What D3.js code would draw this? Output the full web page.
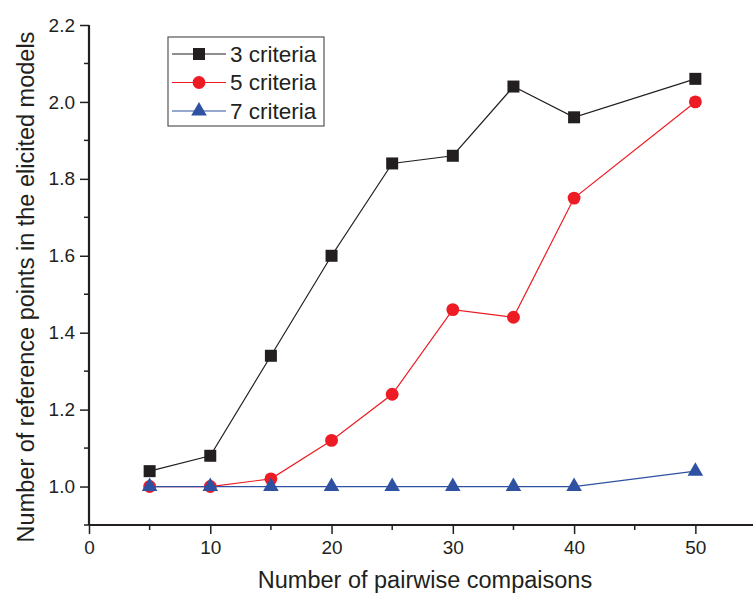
<!DOCTYPE html>
<html>
<head>
<meta charset="utf-8">
<script src="https://cdn.jsdelivr.net/npm/d3@7"></script>
<style>
  body { margin: 0; background: #fff; }
  text { font-family: "Liberation Sans", Arial, sans-serif; fill: #231f20; }
</style>
</head>
<body>
<script>
// data

const comparisons = [5, 10, 15, 20, 25, 30, 35, 40, 50];
const criteria3 = [1.04, 1.08, 1.34, 1.60, 1.84, 1.86, 2.04, 1.96, 2.06];
const criteria5 = [1.00, 1.00, 1.02, 1.12, 1.24, 1.46, 1.44, 1.75, 2.00];
const criteria7 = [1.00, 1.00, 1.00, 1.00, 1.00, 1.00, 1.00, 1.00, 1.04];
const seriesNames = ["3 criteria", "5 criteria", "7 criteria"];
const xTickLabels = [0, 10, 20, 30, 40, 50];
const yTickLabels = [1.0, 1.2, 1.4, 1.6, 1.8, 2.0, 2.2];

const series = [
    { name: seriesNames[0], values: criteria3, color: "#231f20", symbol: d3.symbolSquare, size: 144 },
    { name: seriesNames[1], values: criteria5, color: "#ed1c24", symbol: d3.symbolCircle, size: 130 },
    { name: seriesNames[2], values: criteria7, color: "#2e51a2", symbol: d3.symbolTriangle, size: 105 }
];

// dimensions

const dms = {
    width: 753,
    height: 600,
    margins: { top: 25, right: 0, bottom: 75, left: 89 }
};
dms.innerWidth = dms.width - dms.margins.left - dms.margins.right;
dms.innerHeight = dms.height - dms.margins.top - dms.margins.bottom;

const svg = d3.select("body")
    .append("svg")
    .attr("width", dms.width)
    .attr("height", dms.height);

const g = svg.append("g")
    .attr("transform", `translate(${dms.margins.left},${dms.margins.top})`);

// scales

const xScale = d3.scaleLinear()
    .domain([0, 55])
    .range([0, 667]);

const yScale = d3.scaleLinear()
    .domain([0.9, 2.2])
    .range([500, 0]);

// axes

const xAxis = g.append("g")
    .attr("transform", `translate(0,500)`)
    .call(d3.axisBottom(xScale).tickValues(xTickLabels).tickSize(9).tickPadding(7).tickFormat(d3.format("d")));
xAxis.append("g").selectAll("line")
    .data(d3.range(5, 55, 10))
    .join("line")
    .attr("x1", d => xScale(d)).attr("x2", d => xScale(d))
    .attr("y1", 0).attr("y2", 5)
    .attr("stroke", "#231f20").attr("stroke-width", 1.5);

const yAxis = g.append("g")
    .call(d3.axisLeft(yScale).tickValues(yTickLabels).tickSize(9).tickPadding(5).tickFormat(d3.format(".1f")));
yAxis.append("g").selectAll("line")
    .data(d3.range(0.9, 2.2, 0.2))
    .join("line")
    .attr("y1", d => yScale(d)).attr("y2", d => yScale(d))
    .attr("x1", 0).attr("x2", -5)
    .attr("stroke", "#231f20").attr("stroke-width", 1.5);

[xAxis, yAxis].forEach(ax => {
    ax.select(".domain").attr("stroke", "#231f20").attr("stroke-width", 2.2);
    ax.selectAll(".tick line").attr("stroke", "#231f20").attr("stroke-width", 1.5);
    ax.selectAll(".tick text").attr("font-size", 19).attr("fill", "#231f20")
        .style("font-family", "Liberation Sans, Arial, sans-serif");
});
yAxis.select(".domain").attr("d", `M0,500V0`);
xAxis.select(".domain").attr("d", `M0,0H667`);

// axis titles

svg.append("text")
    .attr("x", 425)
    .attr("y", 588)
    .attr("text-anchor", "middle")
    .attr("font-size", 23.5)
    .text("Number of pairwise compaisons");

svg.append("text")
    .attr("transform", `translate(34,287) rotate(-90)`)
    .attr("text-anchor", "middle")
    .attr("font-size", 23.5)
    .text("Number of reference points in the elicited models");

// lines and markers

const line = d3.line()
    .x((d, i) => xScale(comparisons[i]))
    .y(d => yScale(d));

series.forEach(s => {
    g.append("path")
        .datum(s.values)
        .attr("fill", "none")
        .attr("stroke", s.color)
        .attr("stroke-width", 1.2)
        .attr("d", line);

    g.selectAll(null)
        .data(s.values)
        .join("path")
        .attr("transform", (d, i) => `translate(${xScale(comparisons[i])},${yScale(d)})`)
        .attr("d", d3.symbol().type(s.symbol).size(s.size))
        .attr("fill", s.color);
});

// legend

const legend = svg.append("g").attr("transform", "translate(168,37)");
legend.append("rect")
    .attr("width", 156)
    .attr("height", 89)
    .attr("fill", "#fff")
    .attr("stroke", "#555")
    .attr("stroke-width", 1.2);

const rows = legend.selectAll("g.row")
    .data(series)
    .join("g")
    .attr("class", "row")
    .attr("transform", (d, i) => `translate(0,${17 + i * 28.5})`);

rows.append("line")
    .attr("x1", 4).attr("x2", 58)
    .attr("stroke", d => d.color)
    .attr("stroke-width", 1.2);

rows.append("path")
    .attr("transform", "translate(31,0)")
    .attr("d", d => d3.symbol().type(d.symbol).size(d.size)())
    .attr("fill", d => d.color);

rows.append("text")
    .attr("x", 62)
    .attr("dy", "0.35em")
    .attr("font-size", 22.5)
    .text(d => d.name);
</script>
</body>
</html>
